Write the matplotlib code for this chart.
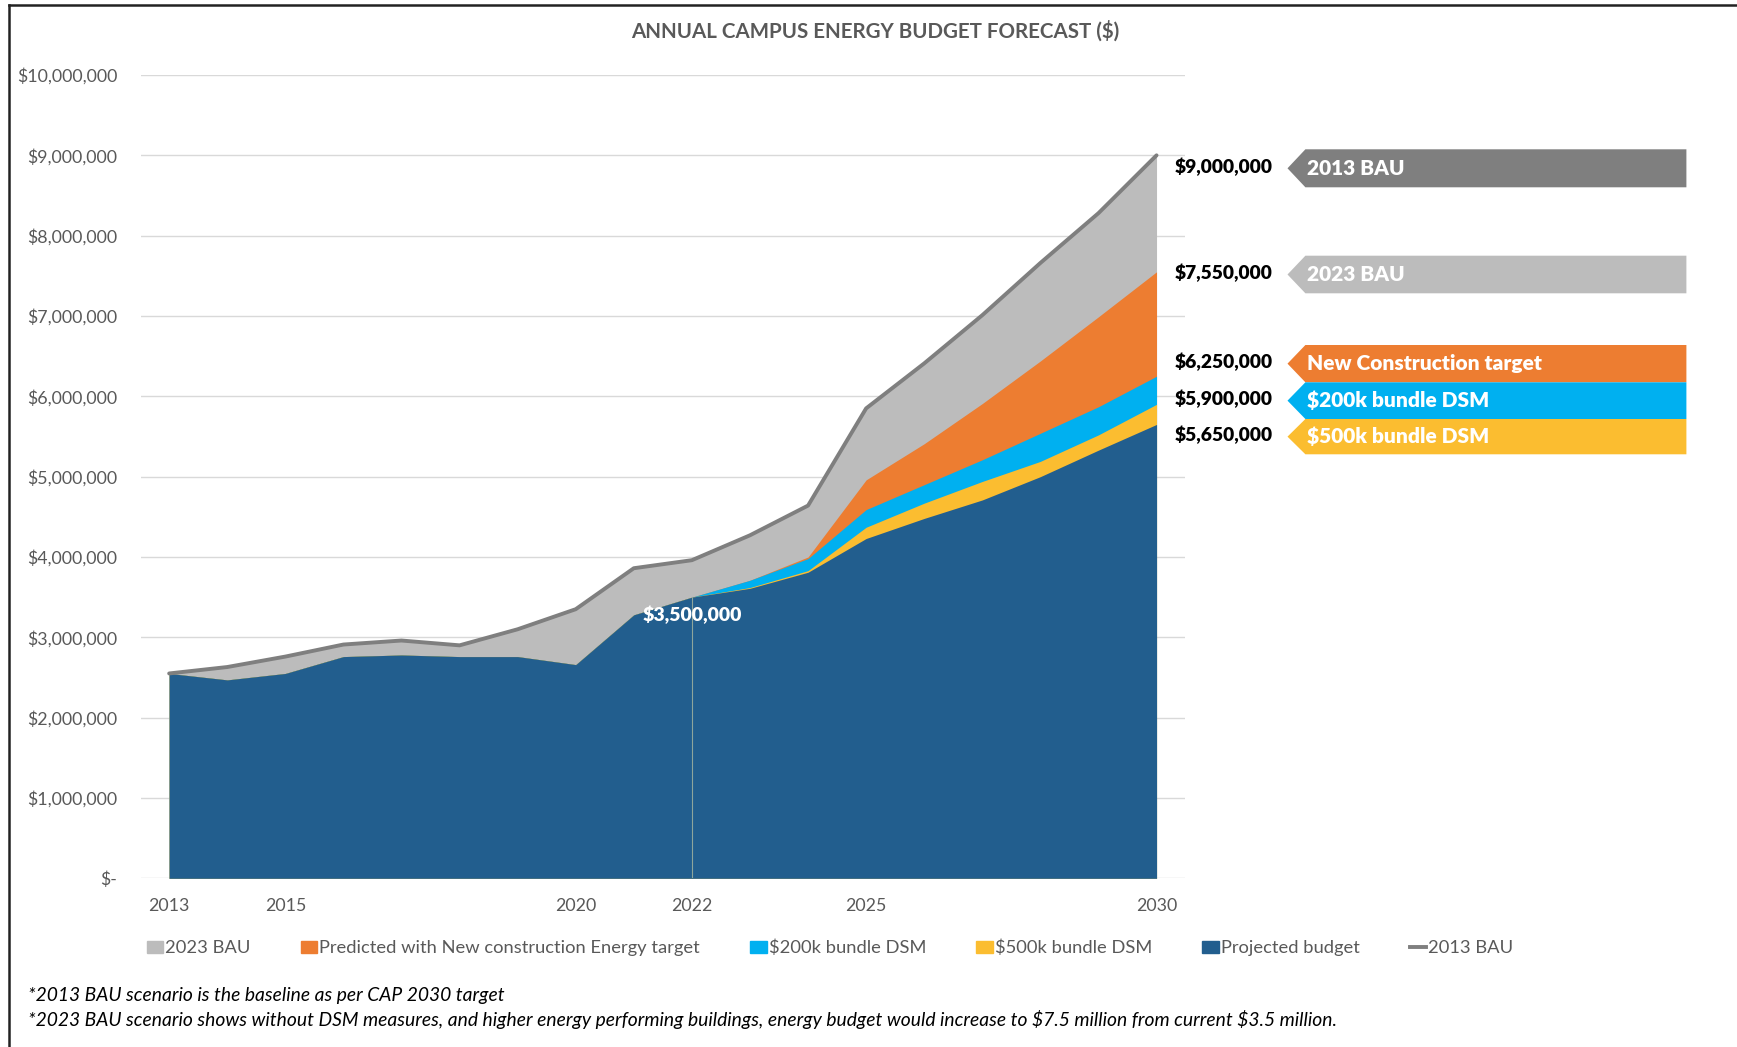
import matplotlib
matplotlib.use("Agg")
import matplotlib.pyplot as plt
from matplotlib.patches import Patch, Polygon
from matplotlib.lines import Line2D
from matplotlib.ticker import FuncFormatter
import numpy as np

plt.rcParams['font.family'] = ['Lato', 'DejaVu Sans']
plt.rcParams['text.parse_math'] = False

# datos (millones de $)
years = np.arange(2013, 2031)
bau_2013 = [2.55, 2.63, 2.76, 2.91, 2.96, 2.90, 3.10, 3.35, 3.86, 3.96,
            4.27, 4.64, 5.85, 6.41, 7.01, 7.66, 8.28, 9.00]
new_constr = [2.55, 2.47, 2.55, 2.76, 2.78, 2.76, 2.76, 2.66, 3.28, 3.50,
              3.71, 4.00, 4.96, 5.41, 5.91, 6.44, 6.99, 7.55]
dsm_200k = [2.55, 2.47, 2.55, 2.76, 2.78, 2.76, 2.76, 2.66, 3.28, 3.50,
            3.71, 3.98, 4.59, 4.90, 5.21, 5.54, 5.87, 6.25]
dsm_500k = [2.55, 2.47, 2.55, 2.76, 2.78, 2.76, 2.76, 2.66, 3.28, 3.50,
            3.62, 3.83, 4.37, 4.67, 4.94, 5.19, 5.52, 5.90]
projected = [2.55, 2.47, 2.55, 2.76, 2.78, 2.76, 2.76, 2.66, 3.28, 3.50,
             3.61, 3.81, 4.23, 4.48, 4.71, 5.00, 5.33, 5.65]
xtick_years = [2013, 2015, 2020, 2022, 2025, 2030]

band_names = ['2013 BAU', '2023 BAU', 'New Construction target',
              '$200k bundle DSM', '$500k bundle DSM']
band_values = ['$9,000,000', '$7,550,000', '$6,250,000', '$5,900,000', '$5,650,000']

c_gray_line = '#7f7f7f'
c_gray = '#bcbcbc'
c_orange = '#ed7d31'
c_lblue = '#00b0f0'
c_yellow = '#fbbd30'
c_dblue = '#225e8e'
c_text = '#595959'

W, H = 1737, 1047
fig = plt.figure(figsize=(W / 100, H / 100), dpi=100)
ax = fig.add_axes([140.7 / W, 1 - 878.3 / H, (1185 - 140.7) / W, (878.3 - 75) / H])

m = 1e6
ax.fill_between(years, 0, np.array(bau_2013) * m, color=c_gray, lw=0, zorder=2)
ax.fill_between(years, 0, np.array(new_constr) * m, color=c_orange, lw=0, zorder=3)
ax.fill_between(years, 0, np.array(dsm_200k) * m, color=c_lblue, lw=0, zorder=4)
ax.fill_between(years, 0, np.array(dsm_500k) * m, color=c_yellow, lw=0, zorder=5)
ax.fill_between(years, 0, np.array(projected) * m, color=c_dblue, lw=0, zorder=6)
ax.plot(years, np.array(bau_2013) * m, color=c_gray_line, lw=2.8, zorder=8,
        solid_capstyle='round')

# linea vertical y etiqueta 2022
i22 = list(years).index(2022)
ax.plot([2022, 2022], [0, projected[i22] * m], color='#8ea69c', lw=0.8, zorder=7)
ax.annotate(f"${projected[i22] * m:,.0f}", (2022, projected[i22] * m),
            xytext=(0, -13), textcoords='offset points', ha='center', va='center',
            color='white', fontsize=14, fontweight='heavy', zorder=9)

ax.set_xlim(2012.51, 2030.49)
ax.set_ylim(0, 10 * m)
ax.set_yticks(np.arange(0, 11) * m)
ax.yaxis.set_major_formatter(FuncFormatter(lambda v, p: '$-' if v == 0 else f'${v:,.0f}'))
ax.set_xticks(xtick_years)
ax.tick_params(axis='y', length=0, pad=17, labelsize=12.8, labelcolor=c_text)
ax.tick_params(axis='x', length=0, pad=14.5, labelsize=12.8, labelcolor=c_text)
ax.grid(axis='y', color='#d9d9d9', lw=1, zorder=0)
ax.set_axisbelow(True)
for s in ax.spines.values():
    s.set_visible(False)

fig.text(875 / W, 1 - 31 / H, 'ANNUAL CAMPUS ENERGY BUDGET FORECAST ($)', ha='center',
         va='center', fontsize=14.8, fontweight='bold', color=c_text)

# leyenda
handles = [Patch(color=c_gray), Patch(color=c_orange), Patch(color=c_lblue),
           Patch(color=c_yellow), Patch(color=c_dblue),
           Line2D([0], [0], color=c_gray_line, lw=2.8)]
labels = ['2023 BAU', 'Predicted with New construction Energy target', '$200k bundle DSM',
          '$500k bundle DSM', 'Projected budget', '2013 BAU']
leg = fig.legend(handles, labels, loc='center', bbox_to_anchor=(830 / W, 1 - 948 / H),
                 ncol=6, frameon=False, fontsize=13.2, handlelength=0.9, handleheight=0.65,
                 handletextpad=0.1, columnspacing=2.75)
for t in leg.get_texts():
    t.set_color(c_text)

# etiquetas a la derecha
band_edges = [(149.3, 187.3), (255.7, 293.3), (345, 382.3), (382.3, 419), (419, 454.3)]
band_colors = [c_gray_line, c_gray, c_orange, c_lblue, c_yellow]
x_tip, x_sh, x_end = 1287.5, 1305.4, 1686.4
for (top, bot), col, name, val in zip(band_edges, band_colors, band_names, band_values):
    yc = (top + bot) / 2
    pts = [(x_tip, yc), (x_sh, top), (x_end, top), (x_end, bot), (x_sh, bot)]
    pts = [(x / W, 1 - y / H) for x, y in pts]
    fig.add_artist(Polygon(pts, closed=True, facecolor=col, edgecolor='none',
                           transform=fig.transFigure))
    fig.text(1307 / W, 1 - yc / H, name, ha='left', va='center', color='white',
             fontsize=15, fontweight='heavy')
    fig.text(1272.5 / W, 1 - (yc - 1.5) / H, val, ha='right', va='center', color='black',
             fontsize=13.8, fontweight='heavy')

# notas
fig.text(28 / W, 1 - 995.5 / H, '*2013 BAU scenario is the baseline as per CAP 2030 target',
         ha='left', va='center', fontsize=13.9, style='italic', color='black')
fig.text(28 / W, 1 - 1019.5 / H,
         '*2023 BAU scenario shows without DSM measures, and higher energy performing buildings, '
         'energy budget would increase to $7.5 million from current $3.5 million.',
         ha='left', va='center', fontsize=13.9, style='italic', color='black')

# marco
fig.add_artist(Line2D([8.5 / W, 1], [1 - 4.5 / H, 1 - 4.5 / H], color='#222222', lw=1.8,
                      transform=fig.transFigure))
fig.add_artist(Line2D([8.5 / W, 8.5 / W], [0, 1 - 4.5 / H], color='#222222', lw=1.8,
                      transform=fig.transFigure))

fig.savefig('out.png', dpi=100)
